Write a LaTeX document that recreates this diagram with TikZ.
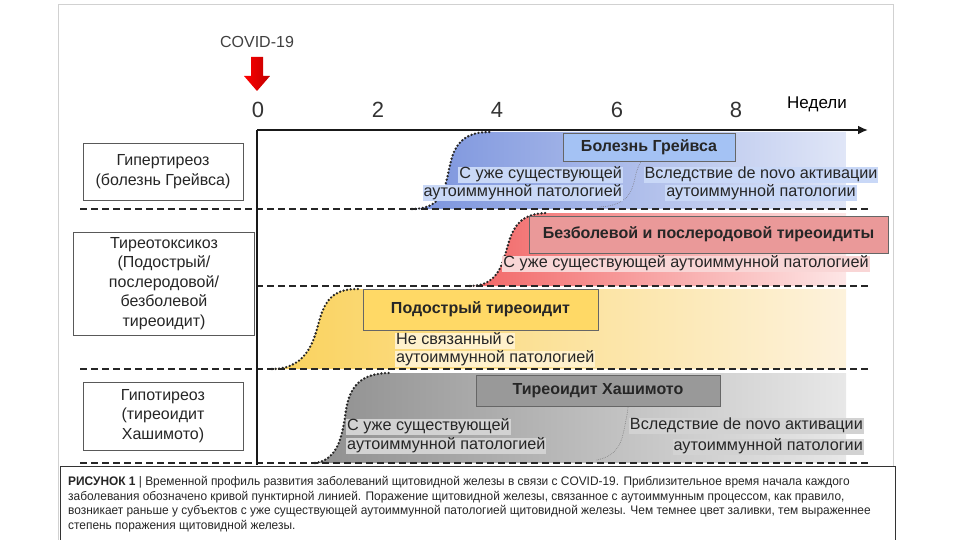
\documentclass[tikz,border=0pt]{standalone}
\usepackage{fontspec}
\setmainfont{Liberation Sans}
\newfontfamily\capfont[FakeStretch=0.96]{Liberation Sans}
\usetikzlibrary{arrows.meta}

\definecolor{gravesdark}{HTML}{7A93DD}
\definecolor{graveslight}{HTML}{E0E6F7}
\definecolor{gravesfill}{HTML}{A4C2F4}
\definecolor{graveshl}{HTML}{C9D8F7}
\definecolor{paindark}{HTML}{F26666}
\definecolor{painlight}{HTML}{FDE6E6}
\definecolor{painfill}{HTML}{EA9999}
\definecolor{painhl}{HTML}{F9D6D6}
\definecolor{subdark}{HTML}{FAD25C}
\definecolor{sublight}{HTML}{FDF2DC}
\definecolor{subfill}{HTML}{FFD966}
\definecolor{subhl}{HTML}{FFF1CC}
\definecolor{hashdark}{HTML}{8F8F8F}
\definecolor{hashlight}{HTML}{E8E8E8}
\definecolor{hashfill}{HTML}{999999}
\definecolor{hashhl}{HTML}{D2D2D2}

\begin{document}
\begin{tikzpicture}[x=1pt, y=-1pt,
    every node/.style = {text=black!85, inner sep=0pt},
    groupbox/.style = {draw=black!65, fill=white, align=center,
      font=\fontsize{16}{19.5}\selectfont},
    titlebox/.style = {draw=black!60, align=center,
      font=\bfseries\fontsize{16}{18}\selectfont},
    note/.style = {inner xsep=1pt, text height=11.5pt, text depth=4pt,
      font=\fontsize{16.2}{19}\selectfont},
    rowline/.style = {line width=2.6pt, black!85, dash pattern=on 7pt off 4pt},
    onset/.style = {line width=2.6pt, black!85, line cap=round,
      dash pattern=on 0pt off 3.6pt},
    split/.style = {line width=0.8pt, black!55, line cap=round,
      dash pattern=on 0pt off 1.8pt}]
  \useasboundingbox (0,0) rectangle (960,540);

  % page frame
  \draw[black!18, line width=1pt] (58,540) -- (58,5) -- (893,5) -- (893,466);

  % disease zones
  \shade[left color=gravesdark, right color=graveslight]
    (412,209) .. controls (445,209) and (445,185) .. (450,165)
    .. controls (455,140) and (468,132) .. (490,132)
    -- (846,132) -- (846,209) -- cycle;
  \shade[left color=paindark, right color=painlight]
    (470,286) .. controls (500,286) and (503,260) .. (508,245)
    .. controls (514,222) and (525,213) .. (548,213)
    -- (846,213) -- (846,286) -- cycle;
  \shade[left color=subdark, right color=sublight]
    (272,369) .. controls (310,369) and (315,335) .. (320,318)
    .. controls (327,295) and (338,289) .. (358,289)
    -- (846,289) -- (846,369) -- cycle;
  \shade[left color=hashdark, right color=hashlight]
    (315,463) .. controls (340,460) and (343,430) .. (346,410)
    .. controls (350,385) and (362,373) .. (390,373)
    -- (846,373) -- (846,463) -- cycle;

  % onset curves
  \draw[onset] (412,209) .. controls (445,209) and (445,185) .. (450,165)
    .. controls (455,140) and (468,132) .. (490,132);
  \draw[onset] (470,286) .. controls (500,286) and (503,260) .. (508,245)
    .. controls (514,222) and (525,213) .. (548,213);
  \draw[onset] (272,369) .. controls (310,369) and (315,335) .. (320,318)
    .. controls (327,295) and (338,289) .. (358,289);
  \draw[onset] (315,463) .. controls (340,460) and (343,430) .. (346,410)
    .. controls (350,385) and (362,373) .. (390,373);

  % rows
  \draw[rowline] (80,209) -- (868,209);
  \draw[rowline] (80,286) -- (868,286);
  \draw[rowline] (80,369) -- (868,369);
  \draw[rowline] (80,463) -- (868,463);

  % axes
  \coordinate (origin) at (257,130);
  \coordinate (weeksend) at (868,130);
  \coordinate (axisfoot) at (257,465);
  \draw[line width=2.6pt, black!90] (axisfoot) -- (origin);
  \draw[line width=2.6pt, black!90, -{Latex[length=10pt, width=9pt]}]
    (origin) -- (weeksend);

  \node[font=\fontsize{22}{24}\selectfont, text=black!80] (w0) at (258,110) {0};
  \node[font=\fontsize{22}{24}\selectfont, text=black!80] (w2) at (378,110) {2};
  \node[font=\fontsize{22}{24}\selectfont, text=black!80] (w4) at (497,110) {4};
  \node[font=\fontsize{22}{24}\selectfont, text=black!80] (w6) at (617,110) {6};
  \node[font=\fontsize{22}{24}\selectfont, text=black!80] (w8) at (736,110) {8};
  \node[font=\fontsize{17}{20}\selectfont, text=black] (weeks) at (817,104) {Недели};

  % covid marker
  \node[font=\fontsize{16}{18}\selectfont, text=black!75] (covid) at (257,42) {COVID-19};
  \shade[left color=red, right color=red!75!black]
    (251,57) -- (263,57) -- (263,76) -- (270,76) -- (257,91)
    -- (244,76) -- (251,76) -- cycle;

  % row labels
  \node[groupbox, minimum width=160pt, minimum height=57pt] (hyper) at (163,171.5)
    {Гипертиреоз\\(болезнь Грейвса)};
  \node[groupbox, minimum width=181pt, minimum height=103pt] (thyrotox) at (164,283.5)
    {Тиреотоксикоз\\(Подострый/\\послеродовой/\\безболевой\\тиреоидит)};
  \node[groupbox, minimum width=160pt, minimum height=68pt] (hypo) at (163,416)
    {Гипотиреоз\\(тиреоидит\\Хашимото)};

  % Graves
  \draw[split] (600,207) .. controls (630,205) and (632,190) .. (635,178)
    .. controls (637,168) and (640,163) .. (642,161);
  \node[titlebox, fill=gravesfill, minimum width=172pt, minimum height=28pt]
    (graves) at (649,147) {Болезнь Грейвса};
  \node[note, fill=graveshl, anchor=east] (graves1) at (623,175) {С уже существующей};
  \node[note, fill=graveshl, anchor=east] (graves2) at (623,193) {аутоиммунной патологией};
  \node[note, fill=graveshl] (graves3) at (761,175) {Вследствие de novo активации};
  \node[note, fill=graveshl] (graves4) at (761,193) {аутоиммунной патологии};

  % painless and postpartum
  \node[titlebox, fill=painfill, minimum width=359pt, minimum height=37pt]
    (painless) at (708.5,234.5) {Безболевой и послеродовой тиреоидиты};
  \node[note, fill=painhl] (painless1) at (686,264) {С уже существующей аутоиммунной патологией};

  % subacute
  \node[titlebox, fill=subfill, minimum width=235pt, minimum height=41pt]
    (subacute) at (480.5,309.5) {Подострый тиреоидит};
  \node[note, fill=subhl, anchor=west] (subacute1) at (395,341) {Не связанный с};
  \node[note, fill=subhl, anchor=west] (subacute2) at (395,359) {аутоиммунной патологией};

  % Hashimoto
  \draw[split] (597,460) .. controls (620,455) and (622,440) .. (625,425)
    .. controls (627,415) and (628,410) .. (628,406);
  \node[titlebox, fill=hashfill, minimum width=244pt, minimum height=31pt]
    (hashimoto) at (598,390.5) {Тиреоидит Хашимото};
  \node[note, fill=hashhl, anchor=west] (hashimoto1) at (346,427) {С уже существующей};
  \node[note, fill=hashhl, anchor=west] (hashimoto2) at (346,446) {аутоиммунной патологией};
  \node[note, fill=hashhl, anchor=east] (hashimoto3) at (864,426) {Вследствие de novo активации};
  \node[note, fill=hashhl, anchor=east] (hashimoto4) at (864,447) {аутоиммунной патологии};

  % caption
  \draw[black!80, fill=white, line width=0.8pt] (60,466) rectangle (895,545);
  \node[anchor=north west, align=left, text=black!85,
    font=\capfont\fontsize{12.4}{14.6}\selectfont] (caption) at (68,476)
    {\textbf{РИСУНОК 1} | Временной профиль развития заболеваний щитовидной железы в связи с COVID-19. Приблизительное время начала каждого\\
     заболевания обозначено кривой пунктирной линией. Поражение щитовидной железы, связанное с аутоиммунным процессом, как правило,\\
     возникает раньше у субъектов с уже существующей аутоиммунной патологией щитовидной железы. Чем темнее цвет заливки, тем выраженнее\\
     степень поражения щитовидной железы.};
\end{tikzpicture}
\end{document}
